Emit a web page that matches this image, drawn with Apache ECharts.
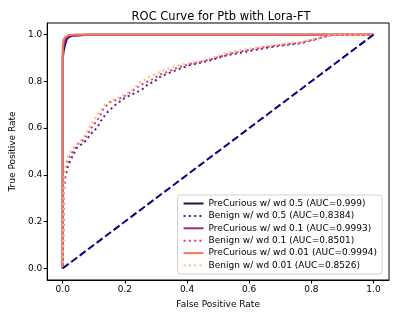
<!DOCTYPE html>
<html><head><meta charset="utf-8">
<script src="https://cdn.jsdelivr.net/npm/echarts@6/dist/echarts.min.js"></script>
<style>html,body{margin:0;padding:0;background:#fff}#c{width:399px;height:319px}</style>
</head><body><div id="c"></div>
<script>
const titleText = "ROC Curve for Ptb with Lora-FT";
const xLabel = "False Positive Rate";
const yLabel = "True Positive Rate";
const tickValues = [0, 0.2, 0.4, 0.6, 0.8, 1.0];

const names = [
  "PreCurious w/ wd 0.5 (AUC=0.999)",
  "Benign w/ wd 0.5 (AUC=0.8384)",
  "PreCurious w/ wd 0.1 (AUC=0.9993)",
  "Benign w/ wd 0.1 (AUC=0.8501)",
  "PreCurious w/ wd 0.01 (AUC=0.9994)",
  "Benign w/ wd 0.01 (AUC=0.8526)"
];

const pc05Fpr = [0, 0, 0, 0.003, 0.008, 0.013, 0.02, 0.03, 0.05, 0.08, 1];
const pc05Tpr = [0, 0.5, 0.9, 0.93, 0.96, 0.98, 0.99, 0.995, 0.997, 1, 1];

const bn05Fpr = [0, 0.002, 0.003, 0.008, 0.015, 0.023, 0.035, 0.045, 0.06, 0.077, 0.09, 0.109, 0.125, 0.141, 0.17, 0.2, 0.232, 0.255, 0.274, 0.295, 0.316, 0.34, 0.37, 0.41, 0.443, 0.485, 0.51, 0.54, 0.6, 0.657, 0.71, 0.764, 0.8, 0.83, 0.87, 0.92, 1];
const bn05Tpr = [0, 0.18, 0.32, 0.39, 0.43, 0.457, 0.49, 0.515, 0.53, 0.55, 0.575, 0.6, 0.635, 0.665, 0.7, 0.73, 0.75, 0.765, 0.787, 0.8, 0.822, 0.835, 0.851, 0.87, 0.88, 0.894, 0.905, 0.915, 0.93, 0.944, 0.955, 0.963, 0.975, 0.987, 1, 1, 1];

const pc01Fpr = [0, 0, 0, 0.004, 0.01, 0.02, 0.04, 1];
const pc01Tpr = [0, 0.6, 0.93, 0.96, 0.985, 0.995, 1, 1];

const bn01Fpr = [0, 0.002, 0.004, 0.008, 0.014, 0.021, 0.034, 0.047, 0.063, 0.078, 0.094, 0.112, 0.13, 0.15, 0.18, 0.21, 0.24, 0.265, 0.29, 0.315, 0.345, 0.375, 0.415, 0.443, 0.475, 0.51, 0.535, 0.6, 0.657, 0.71, 0.764, 0.8, 0.83, 0.87, 0.92, 1];
const bn01Tpr = [0, 0.19, 0.36, 0.41, 0.45, 0.475, 0.505, 0.53, 0.545, 0.57, 0.605, 0.635, 0.68, 0.71, 0.725, 0.745, 0.775, 0.795, 0.81, 0.83, 0.845, 0.862, 0.876, 0.884, 0.894, 0.907, 0.918, 0.935, 0.948, 0.957, 0.966, 0.977, 0.987, 1, 1, 1];

const pc001Fpr = [0, 0, 0, 0.002, 0.008, 0.018, 0.03, 1];
const pc001Tpr = [0, 0.7, 0.95, 0.975, 0.99, 0.998, 1, 1];

const bn001Fpr = [0, 0.002, 0.005, 0.009, 0.013, 0.02, 0.034, 0.05, 0.066, 0.08, 0.098, 0.115, 0.135, 0.16, 0.19, 0.22, 0.252, 0.28, 0.306, 0.34, 0.38, 0.42, 0.443, 0.465, 0.5, 0.53, 0.6, 0.657, 0.71, 0.764, 0.8, 0.827, 0.87, 0.92, 1];
const bn001Tpr = [0, 0.2, 0.39, 0.43, 0.465, 0.49, 0.515, 0.54, 0.558, 0.59, 0.63, 0.665, 0.7, 0.72, 0.737, 0.76, 0.8, 0.82, 0.837, 0.855, 0.872, 0.882, 0.887, 0.894, 0.91, 0.923, 0.94, 0.951, 0.96, 0.968, 0.978, 0.987, 1, 1, 1];

const diagX = [0, 1];
const diagY = [0, 1];

const colors = ["#221150", "#5f187f", "#982d80", "#d3436e", "#f8765c", "#febb81"];
const curves = [
  [pc05Fpr, pc05Tpr, false],
  [bn05Fpr, bn05Tpr, true],
  [pc01Fpr, pc01Tpr, false],
  [bn01Fpr, bn01Tpr, true],
  [pc001Fpr, pc001Tpr, false],
  [bn001Fpr, bn001Tpr, true]
];

const zip = (a, b) => a.map((v, i) => [v, b[i]]);
const FONT = "DejaVu Sans";

const series = curves.map((c, i) => ({
  name: names[i],
  type: 'line',
  data: zip(c[0], c[1]),
  showSymbol: false,
  symbol: 'none',
  silent: true,
  animation: false,
  lineStyle: { color: colors[i], width: 2, type: c[2] ? [2, 3.3] : 'solid', cap: 'butt' },
  itemStyle: { color: colors[i] },
  z: 2 + i
}));
series.push({
  name: 'diag',
  type: 'line',
  data: zip(diagX, diagY),
  symbol: 'none',
  silent: true,
  animation: false,
  lineStyle: { color: '#000080', width: 2, type: [7.4, 3.2] },
  z: 10
});

const axisCommon = {
  min: -0.05, max: 1.05,
  axisLine: { show: true, onZero: false, lineStyle: { color: '#000', width: 1 } },
  axisTick: { show: true, length: 3.5, customValues: tickValues, lineStyle: { color: '#000' } },
  axisLabel: { customValues: tickValues, color: '#000', fontFamily: FONT, fontSize: 9, formatter: v => v.toFixed(1), margin: 5 },
  splitLine: { show: false },
  nameLocation: 'middle',
  nameTextStyle: { color: '#000', fontFamily: FONT, fontSize: 9 }
};

const chart = echarts.init(document.getElementById('c'), null, { renderer: 'canvas' });
chart.setOption({
  animation: false,
  backgroundColor: '#fff',
  title: { text: titleText, left: 216, top: 6, textAlign: 'center', textStyle: { fontFamily: FONT, fontSize: 11.5, fontWeight: 'normal', color: '#000' } },
  grid: { left: 44, right: 10, top: 23, bottom: 39, show: true, borderColor: '#000', borderWidth: 1, containLabel: false },
  xAxis: Object.assign({}, axisCommon, { type: 'value', name: xLabel, nameGap: 20 }),
  yAxis: Object.assign({}, axisCommon, { type: 'value', name: yLabel, nameGap: 25 }),
  legend: {
    data: names,
    orient: 'vertical',
    right: 17, bottom: 45,
    itemWidth: 20, itemHeight: 10, itemGap: 3.4,
    itemStyle: { opacity: 0 },
    backgroundColor: 'rgba(255,255,255,0.8)',
    borderColor: '#d0d0d0', borderWidth: 1, borderRadius: 3,
    padding: [4, 5, 4, 5],
    textStyle: { fontFamily: FONT, fontSize: 9, color: '#000' },
    selectedMode: false
  },
  series: series
});
</script></body></html>
